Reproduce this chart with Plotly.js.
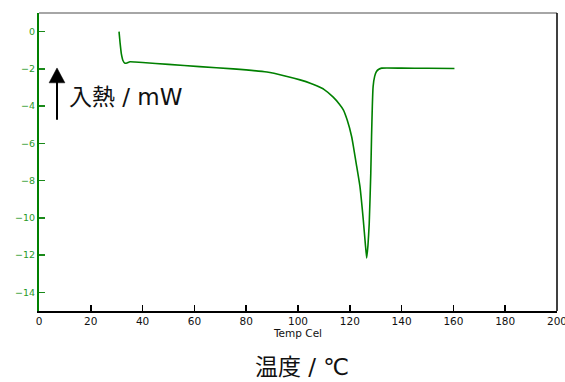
<!DOCTYPE html>
<html>
<head>
<meta charset="utf-8">
<script src="https://cdn.plot.ly/plotly-3.0.1.min.js"></script>
<style>html,body{margin:0;padding:0;background:#fff;}#chart{width:565px;height:382px;}</style>
</head>
<body>
<div id="chart"></div>
<script>
// Temperature (°C) and heat flow (mW)
const temperature = [30.9, 31.3, 31.8, 32.4, 33.2, 34.0, 35.1, 37, 40, 50, 62, 75, 88, 95, 100.8, 105, 107.2, 110, 113.6, 116, 117.5, 119, 120.7, 121.4, 122.5, 123.9, 125.2, 126.0, 126.5, 127.0, 127.5, 128.1, 128.4, 128.7, 129.0, 129.6, 130.3, 131.2, 132.3, 140, 150, 160.4];
const heatFlow = [0.0, -0.6, -1.2, -1.55, -1.70, -1.68, -1.62, -1.63, -1.66, -1.76, -1.88, -2.0, -2.17, -2.38, -2.59, -2.78, -2.91, -3.1, -3.52, -3.9, -4.2, -4.75, -5.63, -6.17, -7.1, -8.3, -10.1, -11.4, -12.15, -11.5, -10.3, -7.6, -5.6, -4.0, -2.95, -2.4, -2.14, -2.02, -1.96, -1.96, -1.97, -1.98];
const xTicks = [0, 20, 40, 60, 80, 100, 120, 140, 160, 180, 200];
const yTicks = [0, -2, -4, -6, -8, -10, -12, -14];
const xTitle = 'Temp Cel';
const xLabel = '温度 / ℃';
const yLabel = '入熱 / mW';

const sansFont = '"DejaVu Sans", Verdana, sans-serif';
const cjkFont = '"DejaVu Sans", "Noto Sans CJK JP", sans-serif';

const trace = {
  x: temperature, y: heatFlow, mode: 'lines', type: 'scatter',
  line: {color: '#008000', width: 1.6, shape: 'spline', smoothing: 0.4}, hoverinfo: 'skip'
};

const layout = {
  width: 565, height: 382,
  margin: {l: 39, r: 8, t: 13, b: 71},
  paper_bgcolor: '#fff', plot_bgcolor: '#fff',
  showlegend: false,
  font: {family: sansFont},
  xaxis: {
    range: [0, 200], tickvals: xTicks, ticktext: xTicks.map(String),
    ticks: 'inside', ticklen: 6, tickwidth: 1.5, tickcolor: '#000',
    ticklabeloverflow: 'allow',
    showline: true, linecolor: '#000', linewidth: 1.5,
    showgrid: false, zeroline: false,
    tickfont: {size: 10.5, color: '#111', family: sansFont},
    title: {text: xTitle, font: {size: 10.5, color: '#111', family: sansFont}, standoff: 3}
  },
  yaxis: {
    range: [-15, 1], tickvals: yTicks, ticktext: yTicks.map(v => v === 0 ? '0' : '\u2212' + Math.abs(v)),
    ticks: 'inside', ticklen: 6, tickwidth: 1.5, tickcolor: '#1a8a1a',
    showline: true, linecolor: '#008000', linewidth: 2,
    showgrid: false, zeroline: false,
    tickfont: {size: 9.5, color: '#2a9a2a', family: sansFont}
  },
  shapes: [
    {type: 'line', xref: 'paper', yref: 'paper', x0: 0, x1: 1, y0: 1, y1: 1, line: {color: '#888', width: 1.5}},
    {type: 'line', xref: 'paper', yref: 'paper', x0: 1, x1: 1, y0: 0, y1: 1, line: {color: '#000', width: 1.5}},
    {type: 'line', xref: 'x', yref: 'y', x0: 6.95, x1: 6.95, y0: -4.73, y1: -2.6, line: {color: '#000', width: 2}},
    {type: 'path', xref: 'x', yref: 'y', path: 'M 3.9 -2.75 L 10.0 -2.75 L 6.95 -1.95 Z', fillcolor: '#000', line: {color: '#000', width: 0.5}}
  ],
  annotations: [
    {text: yLabel, xref: 'paper', yref: 'paper', x: (67 - 39) / 518, y: (311 - 97) / 298, xanchor: 'left', yanchor: 'middle',
     showarrow: false, font: {size: 23, color: '#111', family: cjkFont}},
    {text: xLabel, xref: 'paper', yref: 'paper', x: (302 - 39) / 518, y: -(367 - 311) / 298, xanchor: 'center', yanchor: 'middle',
     showarrow: false, font: {size: 23, color: '#111', family: cjkFont}}
  ]
};

Plotly.newPlot('chart', [trace], layout, {displayModeBar: false, staticPlot: true});
</script>
</body>
</html>
